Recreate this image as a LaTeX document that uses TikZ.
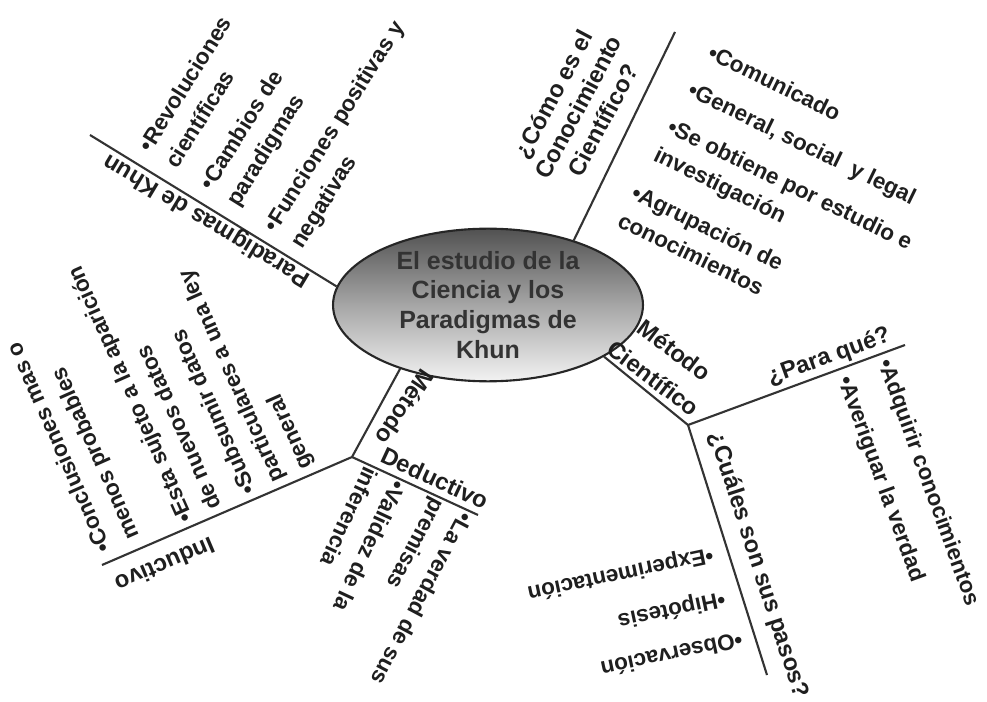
\documentclass[tikz,border=0pt]{standalone}
\usepackage{fontspec}
\setmainfont{Liberation Sans}
\usepackage{tikz}
\usetikzlibrary{shapes.geometric}
\tikzstyle{tema} = [ellipse, draw=black!85, line width=1.2pt,
    top color=black!68, bottom color=black!5, middle color=black!35,
    minimum width=6.2cm, minimum height=2.4cm, inner sep=0pt,
    align=center, text=black!80,
    font=\fontsize{14.2}{17}\selectfont\bfseries]
\tikzstyle{rama} = [line width=1.2pt, draw=black!80]
\tikzstyle{titulo} = [font=\fontsize{13.5}{16}\selectfont\bfseries,
    text=black!88, align=center, inner sep=0pt]
\tikzstyle{idea} = [font=\fontsize{12.8}{17.6}\selectfont\bfseries,
    text=black!88, align=left, inner sep=0pt, anchor=base west]

\begin{document}
\begin{tikzpicture}[x=0.02cm,y=-0.02cm]
    \fill[white] (0,0) rectangle (987,702);
    \useasboundingbox (0,0) rectangle (987,702);
    %centre
    \node[tema] (centro) at (488,305) {El estudio de la\\Ciencia y los\\Paradigmas de\\Khun};
    %points
    \coordinate (pk) at (90,135);
    \coordinate (ce) at (675,32);
    \coordinate (mc) at (688,425);
    \coordinate (pq) at (905,345);
    \coordinate (cp) at (767,675);
    \coordinate (md) at (352,457);
    \coordinate (ind) at (102,565);
    \coordinate (de) at (478,515);
    %lines
    \draw[rama] (pk) -- (centro.173);
    \draw[rama] (ce) -- (centro.37);
    \draw[rama] (centro.336) -- (mc);
    \draw[rama] (mc) -- (pq);
    \draw[rama] (mc) -- (cp);
    \draw[rama] (centro.216) -- (md);
    \draw[rama] (md) -- (ind);
    \draw[rama] (md) -- (de);
    %Paradigmas de Khun
    \node[titulo, rotate=149] (tkhun) at (207,220) {Paradigmas de Khun};
    \node[idea, rotate=58] (rev) at (177,170) {•Revoluciones\\científicas};
    \node[idea, rotate=58] (cam) at (238,208) {•Cambios de\\paradigmas};
    \node[idea, rotate=58] (fun) at (302,250) {•Funciones positivas y\\negativas};
    %Conocimiento
    \node[titulo, rotate=62] (tcon) at (578,107) {¿Cómo es el\\Conocimiento\\Científico?};
    \node[idea, rotate=-26] (com) at (706,58) {•Comunicado};
    \node[idea, rotate=-26] (gen) at (686,95) {•General, social\ \ y legal};
    \node[idea, rotate=-26] (obt) at (652,160) {•Se obtiene por estudio e\\investigación};
    \node[idea, rotate=-26] (agr) at (616,226) {•Agrupación de\\conocimientos};
    %Metodo cientifico
    \node[titulo, rotate=-37, font=\fontsize{13.5}{20}\selectfont\bfseries] (tcie) at (664,364) {Método\\Científico};
    \node[titulo, rotate=20] (tpara) at (829,357) {¿Para qué?};
    \node[idea, rotate=-70] (adq) at (878,362) {•Adquirir conocimientos};
    \node[idea, rotate=-70] (ave) at (838,379) {•Averiguar la verdad};
    \node[titulo, rotate=-72] (tpas) at (758,565) {¿Cuáles son sus pasos?};
    \node[idea, rotate=192] (exp) at (712,548) {•Experimentación};
    \node[idea, rotate=192] (hip) at (724,592) {•Hipótesis};
    \node[idea, rotate=192] (obs) at (741,632) {•Observación};
    %Metodo deductivo e inductivo
    \node[titulo, rotate=-124] (tmet) at (405,407) {Método};
    \node[titulo, rotate=-25] (tded) at (435,478) {Deductivo};
    \node[idea, rotate=-115] (val) at (365,465) {•Validez de la\\inferencia};
    \node[idea, rotate=-118] (ver) at (433,496) {•La verdad de sus\\premisas};
    \node[titulo, rotate=-157] (tind) at (165,565) {Inductivo};
    \node[idea, rotate=114] (con) at (140,536) {•Conclusiones mas o\\menos probables};
    \node[idea, rotate=114] (est) at (222,506) {•Esta sujeto a la aparición\\de nuevos datos};
    \node[idea, rotate=114] (sub) at (313,466) {•Subsumir datos\\particulares a una ley\\general};
\end{tikzpicture}
\end{document}
